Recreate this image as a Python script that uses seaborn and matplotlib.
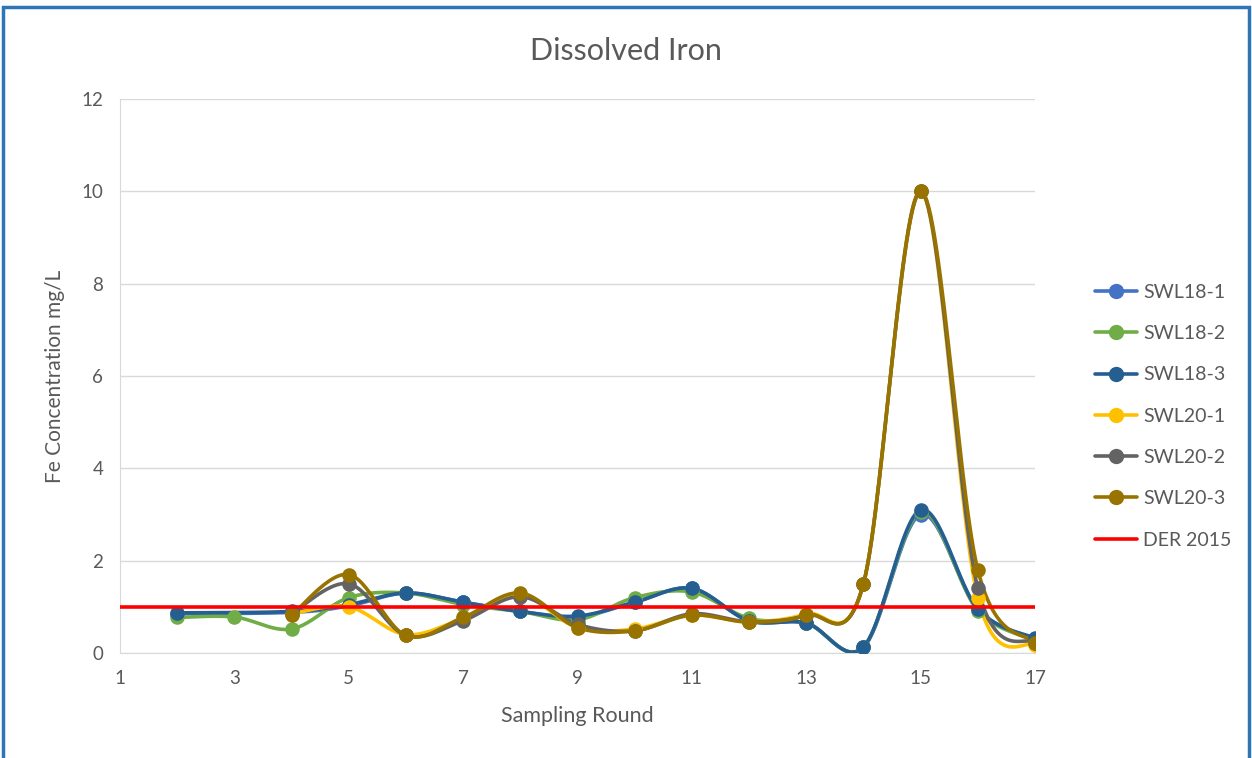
import numpy as np
import pandas as pd
import matplotlib
matplotlib.use("Agg")
import matplotlib.pyplot as plt
from matplotlib.lines import Line2D
from matplotlib.patches import Rectangle
import seaborn as sns

rounds = list(range(2, 18))
nan = np.nan
swl18_1 = [0.85, nan, 0.88, 1.02, 1.3, 1.1, 0.9, 0.78, 1.1, 1.4, 0.7, 0.65, 0.12, 3.0, 0.95, 0.3]
swl18_2 = [0.77, 0.78, 0.52, 1.2, 1.3, 1.05, 0.9, 0.72, 1.2, 1.32, 0.75, 0.65, 0.13, 3.05, 0.92, 0.28]
swl18_3 = [0.87, nan, 0.9, 1.05, 1.3, 1.1, 0.9, 0.8, 1.1, 1.4, 0.7, 0.65, 0.13, 3.1, 0.95, 0.32]
swl20_1 = [nan, nan, 0.85, 1.0, 0.4, 0.75, 1.25, 0.55, 0.52, 0.82, 0.68, 0.85, 1.5, 10.0, 1.2, 0.17]
swl20_2 = [nan, nan, 0.85, 1.5, 0.38, 0.7, 1.22, 0.62, 0.48, 0.85, 0.68, 0.82, 1.5, 10.0, 1.4, 0.22]
swl20_3 = [nan, nan, 0.82, 1.7, 0.38, 0.77, 1.3, 0.55, 0.48, 0.82, 0.67, 0.82, 1.5, 10.0, 1.8, 0.22]
der_2015 = 1.0

names = ["SWL18-1", "SWL18-2", "SWL18-3", "SWL20-1", "SWL20-2", "SWL20-3"]
series = [swl18_1, swl18_2, swl18_3, swl20_1, swl20_2, swl20_3]
colors = ["#4472C4", "#70AD47", "#255E91", "#FFC000", "#636363", "#997300"]


def smooth(xs, ys, n=30):
    # Excel style smoothed line (Catmull-Rom bezier)
    p = np.column_stack([xs, ys])
    out = []
    for i in range(len(p) - 1):
        p0 = p[i - 1] if i > 0 else p[i]
        p1, p2 = p[i], p[i + 1]
        p3 = p[i + 2] if i + 2 < len(p) else p[i + 1]
        c1 = p1 + (p2 - p0) / 6
        c2 = p2 - (p3 - p1) / 6
        t = np.linspace(0, 1, n)[:, None]
        seg = (1 - t) ** 3 * p1 + 3 * (1 - t) ** 2 * t * c1 + 3 * (1 - t) * t ** 2 * c2 + t ** 3 * p2
        out.append(seg if i == 0 else seg[1:])
    return np.vstack(out)


pts = []
curves = []
for name, vals in zip(names, series):
    d = pd.DataFrame({"round": rounds, "value": vals}).dropna()
    d["series"] = name
    pts.append(d)
    c = smooth(d["round"].values.astype(float), d["value"].values)
    curves.append(pd.DataFrame({"round": c[:, 0], "value": c[:, 1], "series": name, "order": np.arange(len(c))}))
pts = pd.concat(pts)
curves = pd.concat(curves)

sns.set_style("white")
plt.rcParams["font.family"] = ["Lato", "DejaVu Sans"]

fig = plt.figure(figsize=(12.52, 7.58), dpi=100)
ax = fig.add_axes([120 / 1252, 1 - 653 / 758, 915 / 1252, 554 / 758])

for name, col in zip(names, colors):
    sns.lineplot(data=curves[curves["series"] == name], x="round", y="value", sort=False,
                 estimator=None, color=col, lw=2.6, ax=ax, zorder=3)
    sns.scatterplot(data=pts[pts["series"] == name], x="round", y="value", color=col,
                    s=110, edgecolor=col, linewidth=0, ax=ax, zorder=4)

ax.plot([1, 17], [der_2015, der_2015], color="#FF0000", lw=2.6, zorder=5)

ax.set_xlim(1, 17)
ax.set_ylim(0, 12)
ax.set_xticks(range(1, 18, 2))
ax.set_yticks(range(0, 13, 2))
ax.yaxis.grid(True, color="#D9D9D9", lw=1)
ax.set_axisbelow(True)
for s in ["top", "right"]:
    ax.spines[s].set_visible(False)
for s in ["left", "bottom"]:
    ax.spines[s].set_color("#D9D9D9")
ax.tick_params(length=0, labelsize=13.5, colors="#595959", pad=12)
ax.set_xlabel("Sampling Round", fontsize=15.5, color="#595959", labelpad=14)
ax.set_ylabel("Fe Concentration mg/L", fontsize=15, color="#595959", labelpad=12)
fig.text(0.5, 1 - 51 / 758, "Dissolved Iron", ha="center", va="center", fontsize=22, color="#595959")

handles = [Line2D([], [], color=c, lw=2.6, marker="o", markersize=10) for c in colors]
handles.append(Line2D([], [], color="#FF0000", lw=2.6))
fig.legend(handles, names + ["DER 2015"], loc="center left", bbox_to_anchor=(0.8665, 0.451),
           frameon=False, fontsize=14, labelspacing=1.25, handlelength=2.2, handletextpad=0.3,
           labelcolor="#595959", borderpad=0)

fig.patches.append(Rectangle((3 / 1252, -0.02), 1246 / 1252, 1.02 - 7 / 758, transform=fig.transFigure,
                             fill=False, edgecolor="#2E75B6", lw=2.5))

fig.savefig("out.png", dpi=100)
